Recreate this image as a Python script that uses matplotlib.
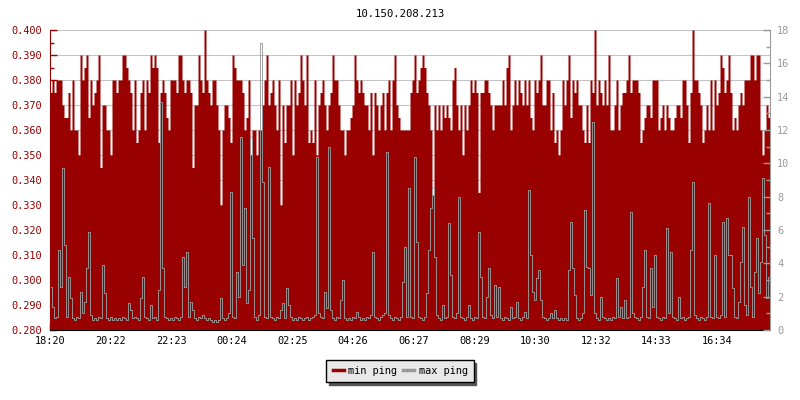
import numpy as np
import matplotlib
matplotlib.use("Agg")
import matplotlib.pyplot as plt
from matplotlib.lines import Line2D
from matplotlib.ticker import MultipleLocator, FormatStrFormatter

# chart text
title = "10.150.208.213"
start_time = "18:20"
sample_minutes = 4          # one sample every 4 minutes, 24 h shown
tick_labels = ["18:20", "20:22", "22:23", "00:24", "02:25", "04:26",
               "06:27", "08:29", "10:30", "12:32", "14:33", "16:34"]

# min ping (left axis, ms)
min_ping = [
    0.375, 0.38, 0.375, 0.38, 0.38, 0.38, 0.37, 0.365, 0.365, 0.375, 0.36, 0.38, 0.36, 0.36, 0.35,
    0.39, 0.38, 0.385, 0.39, 0.365, 0.38, 0.37, 0.375, 0.38, 0.39, 0.345, 0.37, 0.37, 0.36, 0.36,
    0.35, 0.38, 0.38, 0.375, 0.38, 0.38, 0.39, 0.39, 0.385, 0.38, 0.375, 0.36, 0.38, 0.355, 0.36,
    0.375, 0.38, 0.36, 0.38, 0.375, 0.39, 0.385, 0.39, 0.385, 0.355, 0.375, 0.38, 0.375, 0.365, 0.36,
    0.38, 0.38, 0.38, 0.375, 0.39, 0.39, 0.38, 0.375, 0.38, 0.38, 0.375, 0.345, 0.37, 0.37, 0.39,
    0.38, 0.375, 0.40, 0.38, 0.375, 0.37, 0.38, 0.38, 0.37, 0.36, 0.33, 0.36, 0.37, 0.37, 0.365,
    0.355, 0.39, 0.385, 0.38, 0.38, 0.38, 0.375, 0.36, 0.365, 0.38, 0.35, 0.36, 0.36, 0.35, 0.36,
    0.36, 0.37, 0.38, 0.39, 0.37, 0.375, 0.38, 0.37, 0.36, 0.38, 0.33, 0.37, 0.355, 0.37, 0.37,
    0.38, 0.35, 0.38, 0.37, 0.375, 0.39, 0.38, 0.37, 0.39, 0.355, 0.36, 0.355, 0.38, 0.35, 0.37,
    0.375, 0.38, 0.37, 0.36, 0.37, 0.375, 0.39, 0.38, 0.38, 0.37, 0.36, 0.36, 0.35, 0.36, 0.36,
    0.365, 0.37, 0.39, 0.38, 0.375, 0.38, 0.375, 0.37, 0.37, 0.36, 0.375, 0.35, 0.375, 0.37, 0.36,
    0.37, 0.375, 0.36, 0.375, 0.38, 0.36, 0.38, 0.39, 0.37, 0.365, 0.36, 0.36, 0.36, 0.36, 0.36,
    0.375, 0.38, 0.39, 0.375, 0.38, 0.385, 0.39, 0.385, 0.375, 0.37, 0.36, 0.334, 0.37, 0.36, 0.37,
    0.36, 0.37, 0.365, 0.37, 0.365, 0.36, 0.38, 0.385, 0.37, 0.36, 0.37, 0.35, 0.37, 0.36, 0.37,
    0.38, 0.375, 0.38, 0.375, 0.335, 0.375, 0.375, 0.38, 0.38, 0.375, 0.37, 0.36, 0.37, 0.37, 0.37,
    0.37, 0.38, 0.37, 0.385, 0.39, 0.36, 0.37, 0.38, 0.37, 0.38, 0.375, 0.37, 0.38, 0.37, 0.38,
    0.365, 0.36, 0.38, 0.375, 0.38, 0.39, 0.37, 0.37, 0.38, 0.38, 0.36, 0.375, 0.355, 0.36, 0.35,
    0.36, 0.38, 0.37, 0.38, 0.39, 0.365, 0.38, 0.375, 0.38, 0.37, 0.37, 0.36, 0.355, 0.37, 0.355,
    0.38, 0.375, 0.40, 0.37, 0.38, 0.375, 0.37, 0.38, 0.37, 0.39, 0.36, 0.36, 0.37, 0.38, 0.36,
    0.37, 0.375, 0.375, 0.38, 0.39, 0.375, 0.38, 0.38, 0.38, 0.375, 0.355, 0.36, 0.365, 0.37, 0.37,
    0.365, 0.38, 0.38, 0.38, 0.36, 0.365, 0.37, 0.36, 0.37, 0.365, 0.36, 0.36, 0.365, 0.37, 0.37,
    0.365, 0.38, 0.38, 0.37, 0.355, 0.375, 0.40, 0.38, 0.38, 0.375, 0.37, 0.355, 0.36, 0.37, 0.36,
    0.38, 0.36, 0.38, 0.37, 0.375, 0.39, 0.385, 0.375, 0.38, 0.39, 0.375, 0.36, 0.365, 0.36, 0.37,
    0.375, 0.37, 0.38, 0.38, 0.38, 0.39, 0.39, 0.38, 0.39, 0.39, 0.36, 0.35, 0.36, 0.37, 0.365,
]

# max ping (right axis, ms)
max_ping = [
    2.6, 1.4, 0.7, 0.8, 4.8, 2.6, 9.7, 5.1, 0.8, 3.2, 1.9, 0.7, 0.6, 0.8, 0.7,
    2.3, 1.0, 1.7, 3.7, 5.9, 0.9, 0.6, 0.7, 0.6, 0.8, 0.7, 3.9, 2.2, 0.7, 0.6,
    0.8, 0.6, 0.7, 0.6, 0.7, 0.6, 0.8, 0.7, 0.6, 1.6, 1.2, 0.7, 0.8, 0.7, 0.6,
    1.9, 3.2, 0.8, 0.7, 0.6, 1.5, 0.7, 0.8, 0.6, 2.4, 13.7, 3.7, 0.8, 0.7, 0.6,
    0.7, 0.6, 0.8, 0.7, 0.6, 0.8, 4.4, 2.6, 4.7, 0.8, 1.7, 1.2, 0.7, 0.6, 0.8,
    0.7, 0.9, 0.7, 0.6, 0.7, 0.6, 0.5, 0.6, 0.5, 0.6, 1.9, 0.7, 0.6, 0.7, 1.0,
    8.3, 0.8, 0.7, 3.5, 2.0, 11.6, 3.9, 7.3, 1.6, 2.4, 11.6, 5.5, 0.8, 0.6, 0.9,
    17.2, 8.9, 0.8, 0.7, 9.8, 0.8, 0.7, 0.6, 0.8, 0.7, 1.2, 1.6, 0.7, 2.5, 1.5,
    0.8, 0.6, 0.7, 0.6, 0.8, 0.7, 0.6, 0.7, 0.8, 0.6, 0.7, 0.8, 0.9, 10.4, 1.0,
    0.8, 0.7, 2.3, 1.3, 11.0, 1.2, 0.7, 0.6, 0.8, 0.7, 1.8, 3.0, 0.7, 0.6, 0.7,
    0.6, 0.8, 0.7, 1.1, 0.8, 0.6, 0.7, 0.6, 0.8, 0.7, 0.9, 4.7, 0.8, 0.7, 0.6,
    0.8, 0.9, 1.0, 10.7, 0.9, 0.7, 0.6, 0.8, 0.7, 0.6, 0.8, 2.9, 5.0, 0.8, 8.5,
    0.8, 0.7, 10.4, 5.3, 0.8, 0.7, 0.6, 0.8, 2.2, 4.8, 7.3, 8.5, 4.4, 0.9, 0.7,
    0.6, 1.5, 0.7, 0.8, 6.4, 3.3, 0.8, 0.7, 1.0, 8.0, 0.8, 0.7, 0.6, 0.8, 1.5,
    0.7, 0.6, 0.8, 0.7, 5.9, 3.2, 0.8, 0.7, 2.0, 3.7, 0.9, 0.7, 2.7, 0.8, 2.6,
    0.7, 0.6, 0.8, 0.7, 0.6, 1.4, 0.7, 0.8, 1.7, 0.7, 0.6, 0.8, 1.1, 0.7, 8.4,
    4.5, 2.3, 1.8, 3.1, 3.6, 1.8, 0.8, 0.7, 0.6, 0.7, 1.0, 0.7, 1.2, 0.7, 0.6,
    0.7, 0.6, 0.7, 0.6, 3.6, 6.5, 3.7, 2.1, 0.7, 0.6, 0.7, 1.0, 7.2, 3.8, 3.7,
    2.1, 12.5, 1.0, 0.7, 0.6, 2.0, 0.8, 0.7, 0.6, 0.7, 0.6, 0.8, 0.7, 3.1, 0.8,
    1.4, 0.7, 1.8, 0.7, 0.8, 7.1, 1.0, 0.8, 0.7, 0.6, 0.8, 2.6, 4.8, 0.8, 0.7,
    3.7, 1.4, 4.5, 0.8, 0.7, 0.6, 0.8, 0.7, 6.1, 1.0, 4.7, 0.8, 0.7, 0.6, 2.0,
    0.7, 0.8, 0.6, 0.7, 0.8, 4.8, 8.9, 0.9, 0.7, 0.6, 0.8, 0.7, 0.6, 0.8, 7.6,
    0.8, 0.7, 4.5, 0.8, 0.7, 0.9, 6.5, 0.8, 6.7, 4.5, 4.5, 2.5, 0.8, 0.7, 1.7,
    4.1, 6.2, 1.5, 0.9, 8.0, 2.6, 0.8, 3.5, 5.5, 2.2, 4.1, 9.1, 5.7, 1.9, 3.2,
]

RED = "#990000"
GREY = "#9a9a9a"
FONT = "DejaVu Sans Mono"
FS = 7.4

plt.rcParams["font.family"] = FONT


def minutes_after_start(label):
    h, m = map(int, label.split(":"))
    h0, m0 = map(int, start_time.split(":"))
    d = (h * 60 + m) - (h0 * 60 + m0)
    return d if d >= 0 else d + 1440


n = len(min_ping)
edges = np.arange(n + 1) * sample_minutes
centers = (np.arange(n) + 0.5) * sample_minutes
span = n * sample_minutes

fig = plt.figure(figsize=(8, 4), dpi=100)
ax = fig.add_axes([50 / 800, 70 / 400, 720 / 800, 300 / 400])
ax2 = ax.twinx()

ax.fill_between(edges, min_ping + [min_ping[-1]], 0.28, step="post",
                color=RED, linewidth=0, antialiased=False)
ax2.plot(centers, max_ping, color=GREY, linewidth=0.65, drawstyle="steps-mid")

ax.set_xlim(0, span)
ax.set_ylim(0.28, 0.40)
ax2.set_ylim(0, 18)

ax.set_axisbelow(True)
ax.grid(axis="y", color="#c4c4c4", linewidth=0.8)

ax.yaxis.set_major_locator(MultipleLocator(0.01))
ax.yaxis.set_minor_locator(MultipleLocator(0.005))
ax.yaxis.set_major_formatter(FormatStrFormatter("%.3f"))
ax2.yaxis.set_major_locator(MultipleLocator(2))
ax2.yaxis.set_minor_locator(MultipleLocator(1))

ax.set_xticks([minutes_after_start(t) for t in tick_labels])
ax.set_xticklabels(tick_labels)

ax.tick_params(axis="y", which="both", direction="in", colors=RED,
               labelsize=FS, pad=6)
ax.tick_params(axis="y", which="major", length=5, width=1)
ax.tick_params(axis="y", which="minor", length=3, width=1)
ax.tick_params(axis="x", direction="in", length=5, width=1, colors="black",
               labelsize=FS, pad=4)
ax2.tick_params(axis="y", which="both", direction="in", colors=GREY,
                labelsize=FS, pad=5)
ax2.tick_params(axis="y", which="major", length=5, width=1)
ax2.tick_params(axis="y", which="minor", length=3, width=1)

for a in (ax, ax2):
    a.spines["top"].set_visible(False)
ax.spines["left"].set_color(RED)
ax.spines["bottom"].set_color("black")
ax2.spines["left"].set_visible(False)
ax2.spines["bottom"].set_visible(False)
ax2.spines["right"].set_color(GREY)
ax.spines["right"].set_visible(False)

fig.text(0.5, 1 - 14 / 400, title, ha="center", va="center",
         fontsize=FS + 0.3, color="black")

handles = [Line2D([], [], color=RED, linewidth=2.5),
           Line2D([], [], color=GREY, linewidth=2.5)]
leg = fig.legend(handles, ["min ping", "max ping"], loc="center",
                 bbox_to_anchor=(0.5, 1 - 371 / 400), ncol=2, fontsize=FS,
                 handlelength=1.1, handletextpad=0.4, columnspacing=0.6,
                 borderpad=0.6, fancybox=False, framealpha=1,
                 facecolor="#e8e8e8", edgecolor="black",
                 shadow={"color": "#555555", "alpha": 1.0})
leg.get_frame().set_linewidth(1.0)

fig.savefig("out.png", dpi=100)
